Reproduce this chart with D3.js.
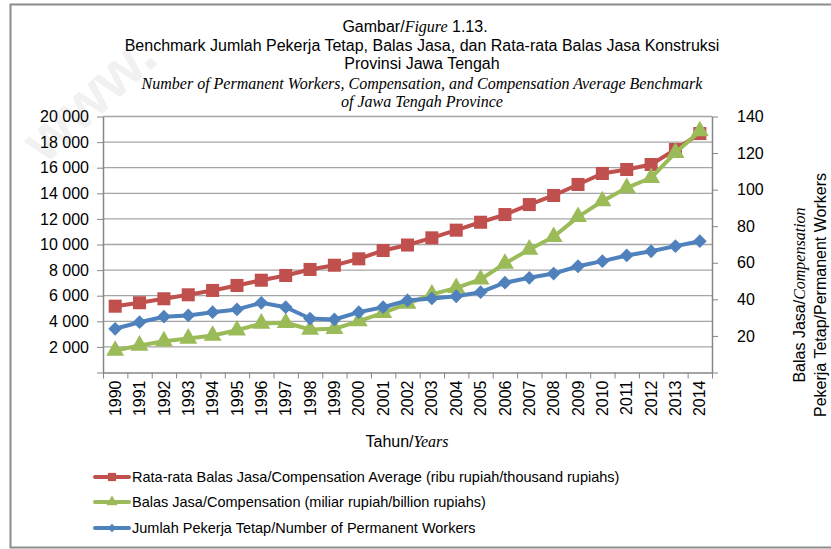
<!DOCTYPE html>
<html>
<head>
<meta charset="utf-8">
<script src="https://cdn.jsdelivr.net/npm/d3@7"></script>
<style>
  body { margin: 0; background: #fff; }
  svg { display: block; font-family: 'Liberation Sans', Arial, sans-serif; }
  .axis path, .axis line { stroke: #868686; }
  .axis text { fill: #000; }
</style>
</head>
<body>
<div id="chart-area"></div>
<script>
// data
var years = ['1990','1991','1992','1993','1994','1995','1996','1997','1998','1999','2000','2001','2002',
             '2003','2004','2005','2006','2007','2008','2009','2010','2011','2012','2013','2014']

// Rata-rata Balas Jasa (left axis, ribu rupiah)
var avgComp = [5180, 5450, 5760, 6070, 6410, 6800, 7210, 7580, 8050, 8380, 8880, 9530, 9960,
               10520, 11120, 11740, 12340, 13120, 13830, 14690, 15550, 15860, 16250, 17420, 18670]

// Balas Jasa (right axis, miliar rupiah)
var comp = [12.0, 14.8, 17.1, 18.6, 20.2, 23.1, 26.8, 27.2, 23.5, 23.9, 28.1, 32.6, 37.7,
            42.7, 46.3, 50.9, 59.6, 67.3, 74.2, 85.1, 93.7, 101.0, 106.5, 120.2, 132.0]

// Jumlah Pekerja Tetap (right axis)
var workers = [23.9, 27.5, 30.5, 31.2, 33.0, 34.5, 38.1, 35.7, 29.5, 29.0, 33.0, 35.7, 39.4,
               40.5, 41.7, 43.9, 49.1, 51.8, 54.1, 58.1, 60.9, 64.0, 66.3, 69.1, 71.8]

var leftTicks = [0, 2000, 4000, 6000, 8000, 10000, 12000, 14000, 16000, 18000, 20000]
var rightTicks = [0, 20, 40, 60, 80, 100, 120, 140]

var legendLabels = [
  'Rata-rata Balas Jasa/Compensation Average (ribu rupiah/thousand rupiahs)',
  'Balas Jasa/Compensation (miliar rupiah/billion rupiahs)',
  'Jumlah Pekerja Tetap/Number of Permanent Workers'
]

var W = 831, H = 549
var plot = { left: 103, right: 712, top: 116.5, bottom: 372.5 }

var svg = d3.select('#chart-area')
  .append('svg')
    .attr('width', W)
    .attr('height', H)

// faint watermark
svg.append('text')
  .attr('transform', 'translate(45,165) rotate(-42)')
  .attr('font-size', 60)
  .attr('font-weight', 'bold')
  .attr('fill', '#f1f1f1')
  .text('www.')

// outer frame
svg.append('rect')
  .attr('x', 10.5).attr('y', 4.5)
  .attr('width', 830).attr('height', 543)
  .attr('fill', 'none')
  .attr('stroke', '#8c8c8c')
  .attr('stroke-width', 2)

// title
var title = svg.append('g').attr('text-anchor', 'middle').attr('font-size', 16)
var t1 = title.append('text').attr('x', 415).attr('y', 32)
t1.append('tspan').text('Gambar/')
t1.append('tspan').attr('font-family', "'Liberation Serif', serif").attr('font-style', 'italic').text('Figure')
t1.append('tspan').text(' 1.13.')
title.append('text').attr('x', 422).attr('y', 51)
  .text('Benchmark Jumlah Pekerja Tetap, Balas Jasa, dan Rata-rata Balas Jasa Konstruksi')
title.append('text').attr('x', 422).attr('y', 69).text('Provinsi Jawa Tengah')
title.append('text').attr('x', 422).attr('y', 89)
  .attr('font-family', "'Liberation Serif', serif").attr('font-style', 'italic')
  .text('Number of Permanent Workers, Compensation, and Compensation Average Benchmark')
title.append('text').attr('x', 422).attr('y', 107)
  .attr('font-family', "'Liberation Serif', serif").attr('font-style', 'italic')
  .text('of  Jawa Tengah Province')

// scales
var x = d3.scaleBand()
  .domain(years)
  .range([plot.left, plot.right])

var xIdx = d3.scaleLinear()
  .domain([0, years.length])
  .range([plot.left, plot.right])

var yL = d3.scaleLinear()
  .domain([0, 20000])
  .range([plot.bottom, plot.top])

var yR = d3.scaleLinear()
  .domain([0, 140])
  .range([plot.bottom, plot.top])

var fmt = d3.formatLocale({ decimal: ',', thousands: ' ', grouping: [3], currency: ['', ''] }).format(',')

// gridlines
svg.append('g')
  .selectAll('line')
  .data(leftTicks.filter(d => d > 0))
  .enter().append('line')
    .attr('x1', plot.left).attr('x2', plot.right)
    .attr('y1', d => yL(d)).attr('y2', d => yL(d))
    .attr('stroke', '#a5a5a5')
    .attr('stroke-width', 1.3)

// left axis
var yLAxis = svg.append('g')
  .attr('class', 'axis')
  .attr('transform', 'translate(' + plot.left + ',0)')
  .call(d3.axisLeft(yL).tickValues(leftTicks).tickSize(6).tickSizeOuter(0).tickPadding(8)
    .tickFormat(d => d === 0 ? '' : fmt(d)))
yLAxis.selectAll('text').attr('font-size', 16).attr('font-family', "'Liberation Sans', Arial, sans-serif")
yLAxis.select('.domain').attr('stroke-width', 1.5)

// right axis
var yRAxis = svg.append('g')
  .attr('class', 'axis')
  .attr('transform', 'translate(' + plot.right + ',0)')
  .call(d3.axisRight(yR).tickValues(rightTicks).tickSize(6).tickSizeOuter(0).tickPadding(19)
    .tickFormat(d => d === 0 ? '' : d))
yRAxis.selectAll('text').attr('font-size', 16).attr('font-family', "'Liberation Sans', Arial, sans-serif")
yRAxis.select('.domain').attr('stroke-width', 1.5)

// x axis: boundary ticks
var xTicks = svg.append('g')
  .attr('class', 'axis')
  .attr('transform', 'translate(0,' + plot.bottom + ')')
  .call(d3.axisBottom(xIdx).ticks(years.length).tickSize(6).tickSizeOuter(0).tickFormat(''))
xTicks.select('.domain').attr('stroke-width', 1.5)

// x axis: rotated year labels
var xLabels = svg.append('g')
  .attr('class', 'axis')
  .attr('transform', 'translate(0,' + plot.bottom + ')')
  .call(d3.axisBottom(x).tickSize(0))
xLabels.select('.domain').remove()
xLabels.selectAll('text')
  .attr('font-size', 16)
  .attr('font-family', "'Liberation Sans', Arial, sans-serif")
  .attr('transform', 'rotate(-90)')
  .attr('x', -8)
  .attr('y', 0)
  .attr('dy', '0.35em')
  .style('text-anchor', 'end')

// axis titles
var xt = svg.append('text')
  .attr('x', 407).attr('y', 447)
  .attr('text-anchor', 'middle')
  .attr('font-size', 16)
xt.append('tspan').text('Tahun/')
xt.append('tspan').attr('font-family', "'Liberation Serif', serif").attr('font-style', 'italic').text('Years')

var rt1 = svg.append('text')
  .attr('transform', 'translate(805,295) rotate(-90)')
  .attr('text-anchor', 'middle')
  .attr('font-size', 16)
rt1.append('tspan').text('Balas Jasa/')
rt1.append('tspan').attr('font-family', "'Liberation Serif', serif").attr('font-style', 'italic').text('Compensation')

svg.append('text')
  .attr('transform', 'translate(826,295) rotate(-90)')
  .attr('text-anchor', 'middle')
  .attr('font-size', 16)
  .text('Pekerja Tetap/Permanent Workers')

// series
var series = [
  { values: avgComp, scale: yL, color: '#C0504D', symbol: d3.symbolSquare, size: 170, rot: 0 },
  { values: comp, scale: yR, color: '#9BBB59', symbol: d3.symbolTriangle, size: 140, rot: 0 },
  { values: workers, scale: yR, color: '#4F81BD', symbol: d3.symbolSquare, size: 95, rot: 45 }
]

var cx = i => x(years[i]) + x.bandwidth() / 2

series.forEach(s => {
  var line = d3.line()
    .x((d, i) => cx(i))
    .y(d => s.scale(d))

  svg.append('path')
    .datum(s.values)
    .attr('d', line)
    .attr('fill', 'none')
    .attr('stroke', s.color)
    .attr('stroke-width', 4)
    .attr('stroke-linejoin', 'round')

  svg.append('g')
    .selectAll('path')
    .data(s.values)
    .enter().append('path')
      .attr('d', d3.symbol().type(s.symbol).size(s.size))
      .attr('transform', (d, i) => 'translate(' + cx(i) + ',' + s.scale(d) + ') rotate(' + s.rot + ')')
      .attr('fill', s.color)
})

// legend
var legend = svg.append('g')
var rowsY = [477, 502, 528]

series.forEach((s, i) => {
  var row = legend.append('g').attr('transform', 'translate(0,' + rowsY[i] + ')')
  row.append('line')
    .attr('x1', 95).attr('x2', 129)
    .attr('stroke', s.color)
    .attr('stroke-width', 4)
    .attr('stroke-linecap', 'round')
  row.append('path')
    .attr('d', d3.symbol().type(s.symbol).size(s.size * 0.4))
    .attr('transform', 'translate(112,0) rotate(' + s.rot + ')')
    .attr('fill', s.color)
  row.append('text')
    .attr('x', 132)
    .attr('dy', '0.35em')
    .attr('font-size', 14.5)
    .text(legendLabels[i])
})
</script>
</body>
</html>
